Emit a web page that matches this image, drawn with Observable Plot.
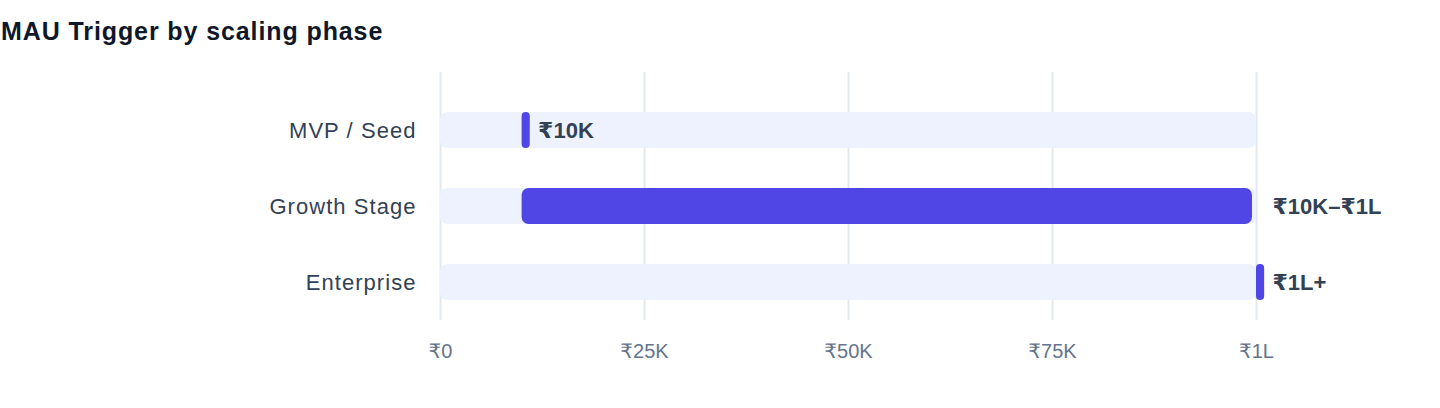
<!DOCTYPE html>
<html>
<head>
<meta charset="utf-8">
<script src="https://cdn.jsdelivr.net/npm/d3@7"></script>
<script src="https://cdn.jsdelivr.net/npm/@observablehq/plot@0.6"></script>
<style>
  html, body { margin: 0; padding: 0; background: #ffffff; }
  body { width: 1440px; height: 408px; overflow: hidden; font-family: "Liberation Sans", "DejaVu Sans", sans-serif; }
  #title { margin: 0; padding: 16px 0 0 1px; height: 40px; font-size: 25px; line-height: 30px; font-weight: 700; color: #0F172A; letter-spacing: 0.9px; }
  #chart svg { display: block; }
  #chart svg g[aria-label="y-axis tick label"] text { letter-spacing: 1.05px; }
</style>
</head>
<body>
<div id="title">MAU Trigger by scaling phase</div>
<div id="chart"></div>
<script>
const phases = ["MVP / Seed", "Growth Stage", "Enterprise"];
const triggerStart = [10000, 10000, 100000];
const triggerEnd = [10000, 100000, 100000];
const triggerLabels = ["₹10K", "₹10K–₹1L", "₹1L+"];
const scaleMax = 100000;
const xTicks = [0, 25000, 50000, 75000, 100000];
const xTickLabels = ["₹0", "₹25K", "₹50K", "₹75K", "₹1L"];
const markerSpan = 1000;

const rows = phases.map((phase, i) => ({
  phase,
  start: triggerStart[i],
  end: triggerEnd[i],
  label: triggerLabels[i],
  point: triggerStart[i] === triggerEnd[i]
}));
const ranges = rows.filter(d => !d.point);
const points = rows.filter(d => d.point);

const chart = Plot.plot({
  width: 1440,
  height: 320,
  marginLeft: 440,
  marginRight: 184,
  marginTop: 16,
  marginBottom: 56,
  style: { fontFamily: '"Liberation Sans", "DejaVu Sans", sans-serif', background: "transparent", color: "#334155" },
  x: { domain: [0, scaleMax] },
  y: { domain: phases, paddingInner: 0, paddingOuter: 0.13158, align: 1, round: false },
  marks: [
    Plot.ruleX(xTicks, { stroke: "#E2E8F0", strokeWidth: 2 }),
    Plot.barX(rows, { y: "phase", x1: d => 0, x2: d => scaleMax, fill: "#EEF2FF", insetTop: 20, insetBottom: 20, rx: 7 }),
    Plot.barX(ranges, { y: "phase", x1: "start", x2: "end", fill: "#4F46E5", insetTop: 20, insetBottom: 20, insetRight: 4, rx: 7 }),
    Plot.barX(points, { y: "phase", x1: "start", x2: d => d.start + markerSpan, fill: "#4F46E5", insetTop: 20, insetBottom: 20, rx: 4 }),
    Plot.text(rows, { y: "phase", x: "end", text: "label", textAnchor: "start", dx: 16, fontSize: 22, fontWeight: 700, fill: "#334155" }),
    Plot.axisX({ ticks: xTicks, tickFormat: d => xTickLabels[xTicks.indexOf(d)], tickSize: 0, tickPadding: 23, fontSize: 20, fill: "#64748B", label: null }),
    Plot.axisY({ tickSize: 0, tickPadding: 24, fontSize: 22, fill: "#334155", label: null })
  ]
});
document.getElementById("chart").appendChild(chart);
</script>
</body>
</html>
